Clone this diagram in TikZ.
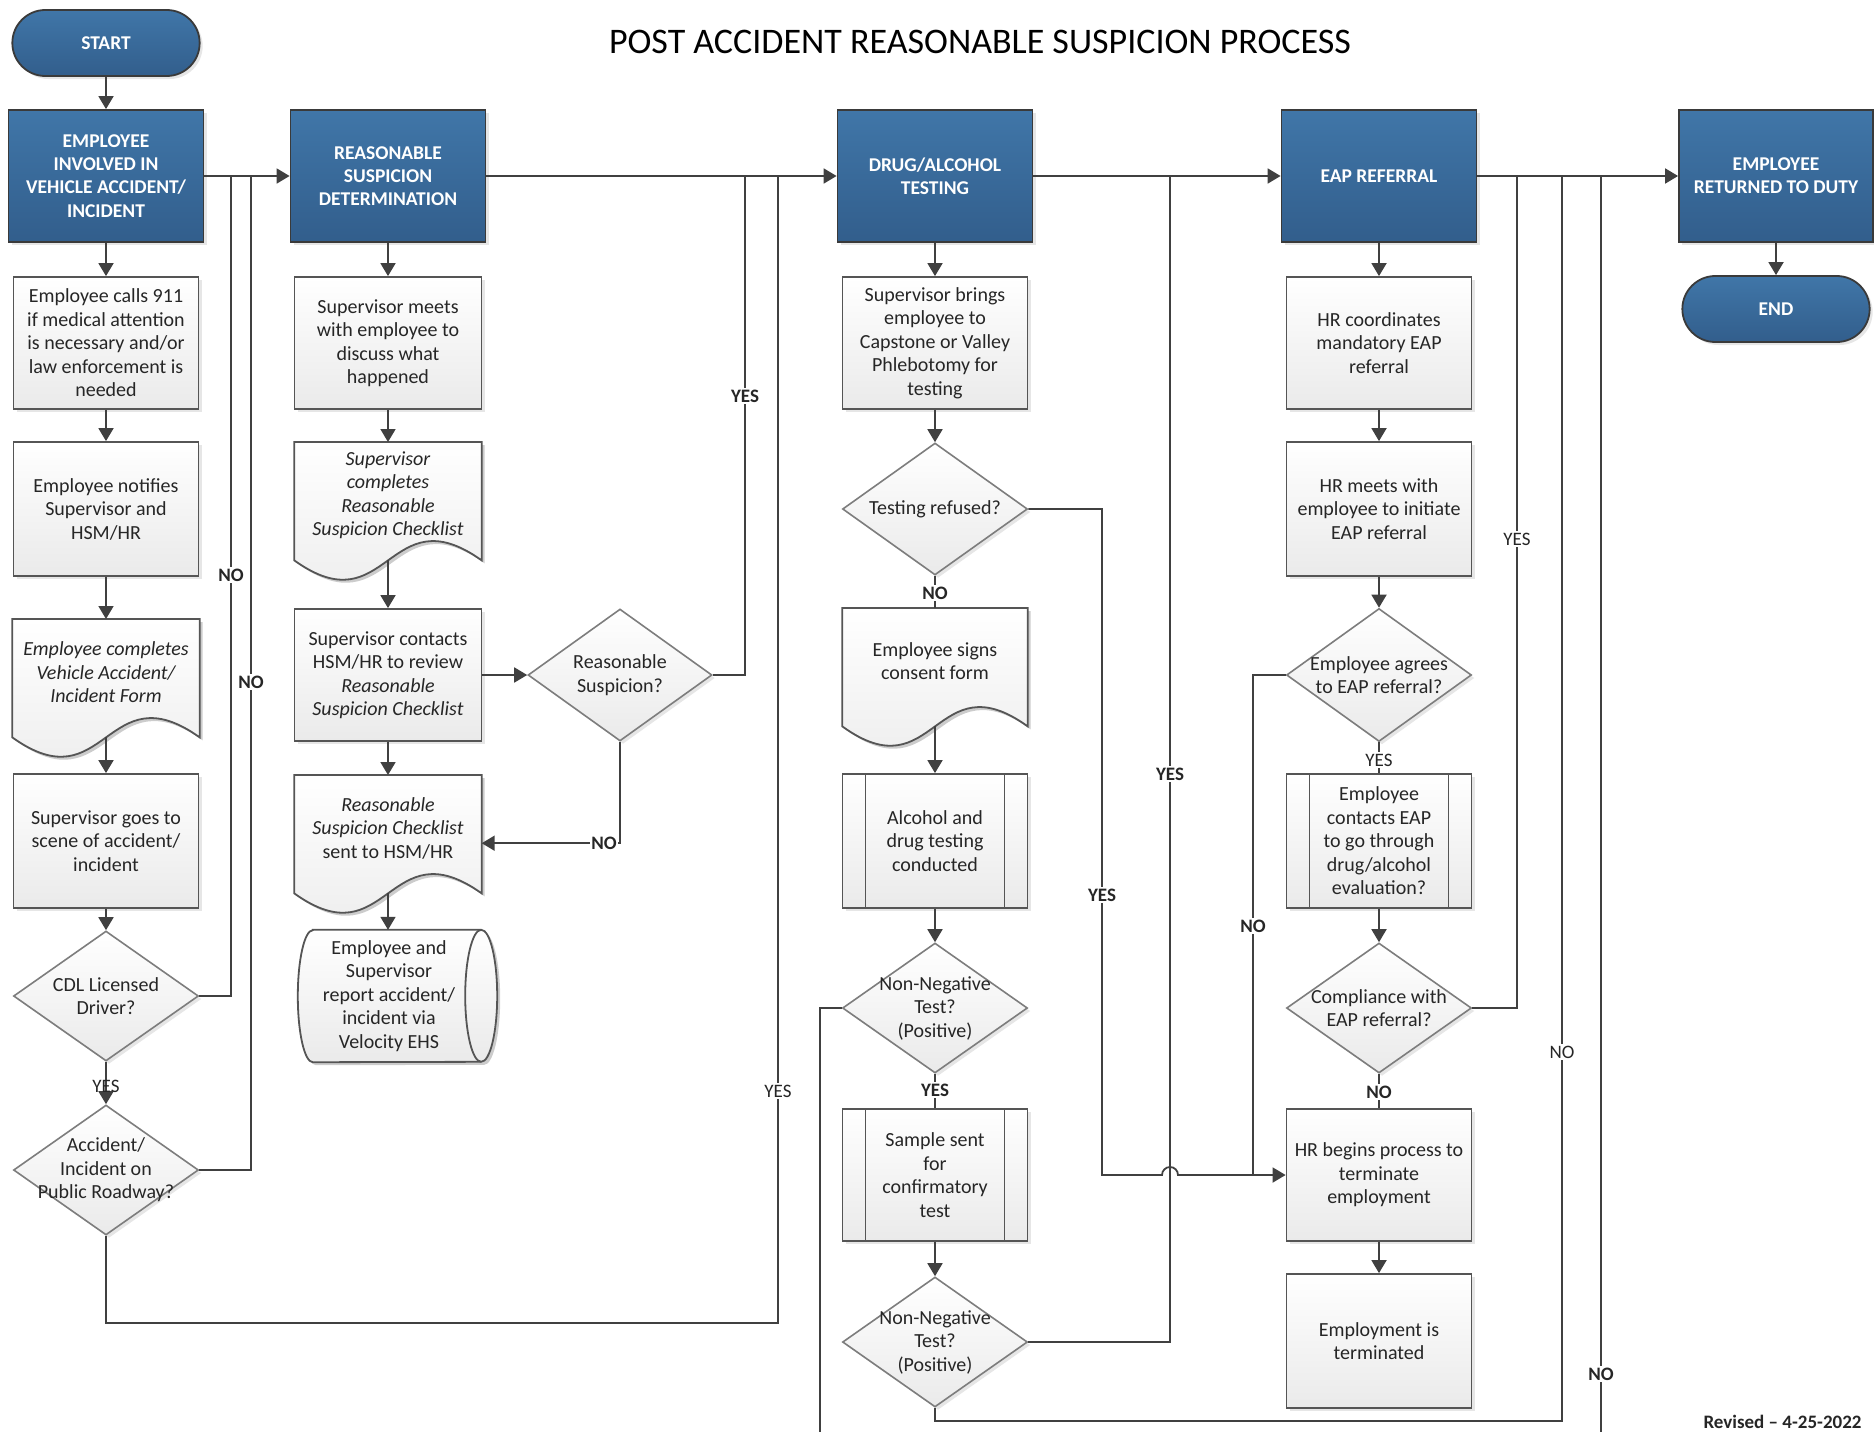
\documentclass[tikz,border=0pt]{standalone}
\usepackage{fontspec}
\setmainfont{Carlito}
\usetikzlibrary{arrows.meta,backgrounds,calc,shadows,shapes.geometric,shapes.misc}
\definecolor{hdrTop}{RGB}{64,118,168}
\definecolor{hdrBot}{RGB}{50,94,140}
\definecolor{hdrLine}{RGB}{58,58,58}
\definecolor{boxLine}{RGB}{85,85,85}
\definecolor{boxBot}{RGB}{234,234,234}
\definecolor{decLine}{RGB}{125,125,125}
\definecolor{connLine}{RGB}{64,64,64}
\newcommand{\boxFont}{\fontsize{20}{23.5}\selectfont}
\newcommand{\headFont}{\fontsize{19.5}{23.3}\selectfont\bfseries}
\newcommand{\labelFont}{\fontsize{19}{21}\selectfont\bfseries}
\newcommand{\labelThinFont}{\fontsize{19}{21}\selectfont}
\newcommand{\titleFont}{\fontsize{36}{40}\selectfont}
\newcommand{\waveOffset}{67pt}
% document outline with wavy bottom, drawn round a named node
\newcommand{\docShape}[1]{%
  \path[docshade, transform canvas={shift={(3pt,-3pt)}}] (#1.north west) -- (#1.north east) -- (#1.south east)
    .. controls ($(#1.south)+(0pt,\waveOffset)$) and ($(#1.south)-(0pt,\waveOffset)$) .. (#1.south west) -- cycle;
  \path[docfill] (#1.north west) -- (#1.north east) -- (#1.south east)
    .. controls ($(#1.south)+(0pt,\waveOffset)$) and ($(#1.south)-(0pt,\waveOffset)$) .. (#1.south west) -- cycle;
}

\begin{document}
\begin{tikzpicture}[x=1pt, y=-1pt, >={Triangle[length=13pt,width=15pt]},
  shadowed/.style={drop shadow={shadow xshift=3pt, shadow yshift=-3pt, opacity=0.2}},
  head/.style={rectangle, draw=hdrLine, line width=1.8pt, top color=hdrTop, bottom color=hdrBot,
    text=white, font=\headFont, align=center, minimum width=195pt, minimum height=132pt, inner sep=2pt, shadowed},
  term/.style={rounded rectangle, draw=hdrLine, line width=1.8pt, top color=hdrTop, bottom color=hdrBot,
    text=white, font=\headFont, minimum width=194pt, minimum height=66pt, shadowed},
  proc/.style={rectangle, draw=boxLine, line width=1.8pt, top color=white, bottom color=boxBot,
    text=black!85, font=\boxFont, align=center, minimum width=185pt, minimum height=132pt, inner sep=2pt, shadowed},
  subproc/.style={proc, path picture={
    \draw[draw=boxLine, line width=1.6pt]
      ([xshift=23pt]path picture bounding box.north west) -- ([xshift=23pt]path picture bounding box.south west)
      ([xshift=-23pt]path picture bounding box.north east) -- ([xshift=-23pt]path picture bounding box.south east);}},
  dec/.style={diamond, draw=decLine, line width=1.6pt, top color=white, bottom color=boxBot,
    minimum width=185pt, minimum height=130pt, inner sep=0pt, shadowed},
  dtext/.style={font=\boxFont, text=black!85, align=center, inner sep=0pt},
  doctext/.style={dtext, yshift=6pt},
  doc/.style={rectangle, minimum width=187pt, minimum height=118pt, inner sep=0pt, anchor=north},
  docfill/.style={draw=boxLine, line width=1.8pt, top color=white, bottom color=boxBot},
  docshade/.style={fill=black, opacity=0.2},
  docline/.style={draw=boxLine, line width=1.8pt},
  conn/.style={draw=connLine, line width=1.8pt},
  lbl/.style={fill=white, font=\labelFont, text=black!85, inner sep=1.5pt},
  lblthin/.style={fill=white, font=\labelThinFont, text=black!85, inner sep=1.5pt}]
\useasboundingbox (0,0) rectangle (1874,1432);

\node[font=\titleFont] (title) at (980,42) {POST ACCIDENT REASONABLE SUSPICION PROCESS};

% column 1
\node[term] (start) at (106,43) {START};
\node[head] (emp) at (106,176) {EMPLOYEE\\INVOLVED IN\\VEHICLE ACCIDENT/\\INCIDENT};
\node[proc] (call) at (106,343) {Employee calls 911\\if medical attention\\is necessary and/or\\law enforcement is\\needed};
\node[proc, minimum height=134pt] (notify) at (106,509) {Employee notifies\\Supervisor and\\HSM/HR};
\node[doc, label={[doctext, font=\boxFont\itshape]center:{Employee completes\\Vehicle Accident/\\Incident Form}}] (empform) at (106,619) {};
\node[proc, minimum height=134pt] (scene) at (106,841) {Supervisor goes to\\scene of accident/\\incident};
\node[dec, label={[dtext]center:{CDL Licensed\\Driver?}}] (cdl) at (106,996) {};
\node[dec, label={[dtext]center:{Accident/\\Incident on\\Public Roadway?}}] (road) at (106,1170) {};

% column 2
\node[head] (rsd) at (388,176) {REASONABLE\\SUSPICION\\DETERMINATION};
\node[proc, minimum width=187pt] (meets) at (388,343) {Supervisor meets\\with employee to\\discuss what\\happened};
\node[doc, label={[doctext, font=\boxFont\itshape]center:{Supervisor\\completes\\Reasonable\\Suspicion Checklist}}] (supform) at (388,442) {};
\node[proc, minimum width=187pt] (contacts) at (388,675) {Supervisor contacts\\HSM/HR to review\\\textit{Reasonable}\\\textit{Suspicion Checklist}};
\node[doc, label={[doctext]center:{\textit{Reasonable}\\\textit{Suspicion Checklist}\\sent to HSM/HR}}] (sent) at (388,775) {};
\node[rectangle, font=\boxFont, text=black!85, align=center, minimum width=152pt, minimum height=132pt, inner sep=0pt]
  (velo) at (389,996) {Employee and\\Supervisor\\report accident/\\incident via\\Velocity EHS};
\node[dec, minimum width=184pt, minimum height=132pt, label={[dtext]center:{Reasonable\\Suspicion?}}] (rsq) at (620,675) {};

% column 3
\node[head] (drug) at (935,176) {DRUG/ALCOHOL\\TESTING};
\node[proc] (brings) at (935,343) {Supervisor brings\\employee to\\Capstone or Valley\\Phlebotomy for\\testing};
\node[dec, minimum height=132pt, label={[dtext]center:{Testing refused?}}] (refused) at (935,509) {};
\node[doc, minimum width=185pt, label={[doctext]center:{Employee signs\\consent form}}] (signs) at (935,608) {};
\node[subproc, minimum height=134pt] (alctest) at (935,841) {Alcohol and\\drug testing\\conducted};
\node[dec, label={[dtext]center:{Non-Negative\\Test?\\(Positive)}}] (nnA) at (935,1008) {};
\node[subproc] (sample) at (935,1175) {Sample sent\\for\\confirmatory\\test};
\node[dec, label={[dtext]center:{Non-Negative\\Test?\\(Positive)}}] (nnB) at (935,1342) {};

% column 4
\node[head] (eap) at (1379,176) {EAP REFERRAL};
\node[proc] (coord) at (1379,343) {HR coordinates\\mandatory EAP\\referral};
\node[proc, minimum height=134pt] (hrmeet) at (1379,509) {HR meets with\\employee to initiate\\EAP referral};
\node[dec, minimum height=133pt, label={[dtext]center:{Employee agrees\\to EAP referral?}}] (agree) at (1379,675) {};
\node[subproc, minimum height=134pt] (eapcall) at (1379,841) {Employee\\contacts EAP\\to go through\\drug/alcohol\\evaluation?};
\node[dec, label={[dtext]center:{Compliance with\\EAP referral?}}] (comply) at (1379,1008) {};
\node[proc] (hrbegin) at (1379,1175) {HR begins process to\\terminate\\employment};
\node[proc, minimum height=134pt] (fired) at (1379,1341) {Employment is\\terminated};

% column 5
\node[head, minimum width=194pt] (back) at (1776,176) {EMPLOYEE\\RETURNED TO DUTY};
\node[term] (finish) at (1776,309) {END};

\node[font=\labelFont, text=black!85, anchor=base west] (rev) at (1700,1428) {Revised – 4-25-2022};

% outlines behind the documents and the storage shape
\begin{pgfonlayer}{background}
\docShape{empform}
\docShape{supform}
\docShape{sent}
\docShape{signs}
\path[docshade, transform canvas={shift={(3pt,-3pt)}}] (velo.north west) -- ([xshift=16pt]velo.north east)
  arc[start angle=90, end angle=-90, x radius=16pt, y radius=66pt] -- (velo.south west)
  arc[start angle=270, end angle=90, x radius=15pt, y radius=66pt] -- cycle;
\path[docfill] (velo.north west) -- ([xshift=16pt]velo.north east)
  arc[start angle=90, end angle=-90, x radius=16pt, y radius=66pt] -- (velo.south west)
  arc[start angle=270, end angle=90, x radius=15pt, y radius=66pt] -- cycle;
\draw[docline] ([xshift=16pt]velo.north east) arc[start angle=90, end angle=270, x radius=16pt, y radius=66pt];
\end{pgfonlayer}

% junction points
\coordinate (jCdl) at (231,176);
\coordinate (jRoad) at (251,176);
\coordinate (jRsq) at (745,176);
\coordinate (jRoadYes) at (778,176);
\coordinate (bRoad) at (778,1323);
\coordinate (jNnB) at (1170,176);
\coordinate (hop) at (1170,1175);
\coordinate (cRef) at (1102,1175);
\coordinate (cAgree) at (1253,1175);
\coordinate (bNnB) at (1562,1421);
\coordinate (jNnB2) at (1562,176);
\coordinate (jComply) at (1517,176);
\coordinate (offA) at (820,1432);
\coordinate (offB) at (1601,1432);
\coordinate (jOff) at (1601,176);

% connectors
\draw[conn,->] (start) -- (emp);
\draw[conn,->] (emp) -- (rsd);
\draw[conn,->] (emp) -- (call);
\draw[conn,->] (call) -- (notify);
\draw[conn,->] (notify) -- (empform);
\draw[conn,->] (empform) -- (scene);
\draw[conn,->] (scene) -- (cdl);
\draw[conn,->] (cdl) -- (road);
\draw[conn] (cdl.east) -| (jCdl);
\draw[conn] (road.east) -| (jRoad);
\draw[conn] (road.south) |- (bRoad) -- (jRoadYes);

\draw[conn,->] (rsd) -- (meets);
\draw[conn,->] (meets) -- (supform);
\draw[conn,->] (supform) -- (contacts);
\draw[conn,->] (contacts) -- (rsq);
\draw[conn,->] (contacts) -- (sent);
\draw[conn,->] (sent.south) -- (sent.south |- velo.north);
\draw[conn,->] (rsq.south) |- ([yshift=-9pt]sent.east);
\draw[conn] (rsq.east) -| (jRsq);

\draw[conn,->] (rsd) -- (drug);
\draw[conn,->] (drug) -- (brings);
\draw[conn,->] (brings) -- (refused);
\draw[conn] (refused) -- (signs);
\draw[conn,->] (signs) -- (alctest);
\draw[conn,->] (alctest) -- (nnA);
\draw[conn] (nnA) -- (sample);
\draw[conn,->] (sample) -- (nnB);
\draw[conn] (nnA.west) -| (offA);
\draw[conn] (nnB.east) -| (jNnB);
\draw[conn] (nnB.south) |- (bNnB) -- (jNnB2);
\draw[conn,->] (refused.east) -| (cRef) -- ([xshift=-8pt]hop) arc[start angle=180, end angle=0, radius=8pt] -- (hrbegin.west);

\draw[conn,->] (drug) -- (eap);
\draw[conn,->] (eap) -- (coord);
\draw[conn,->] (coord) -- (hrmeet);
\draw[conn,->] (hrmeet) -- (agree);
\draw[conn] (agree) -- (eapcall);
\draw[conn] (agree.west) -| (cAgree);
\draw[conn,->] (eapcall) -- (comply);
\draw[conn] (comply.east) -| (jComply);
\draw[conn] (comply) -- (hrbegin);
\draw[conn,->] (hrbegin) -- (fired);

\draw[conn,->] (eap) -- (back);
\draw[conn] (offB) -- (jOff);
\draw[conn,->] (back) -- (finish);

% branch labels
\node[lbl] (noCdl) at (231,575) {NO};
\node[lbl] (noRoad) at (251,682) {NO};
\node[font=\labelThinFont, text=black!85, inner sep=1pt] (yesCdl) at (106,1086) {YES};
\node[lblthin] (yesRoad) at (778,1091) {YES};
\node[lbl] (yesRsq) at (745,396) {YES};
\node[lbl] (noRsq) at (604,843) {NO};
\node[lbl] (noRef) at (935,593) {NO};
\node[lbl] (yesNnA) at (935,1090) {YES};
\node[lbl] (yesRef) at (1102,895) {YES};
\node[lbl] (yesNnB) at (1170,774) {YES};
\node[lbl] (noAgree) at (1253,926) {NO};
\node[lblthin] (yesAgree) at (1379,760) {YES};
\node[lblthin] (yesComply) at (1517,539) {YES};
\node[lbl] (noComply) at (1379,1092) {NO};
\node[lblthin] (noNnB) at (1562,1052) {NO};
\node[lbl] (noOff) at (1601,1374) {NO};
\end{tikzpicture}
\end{document}
